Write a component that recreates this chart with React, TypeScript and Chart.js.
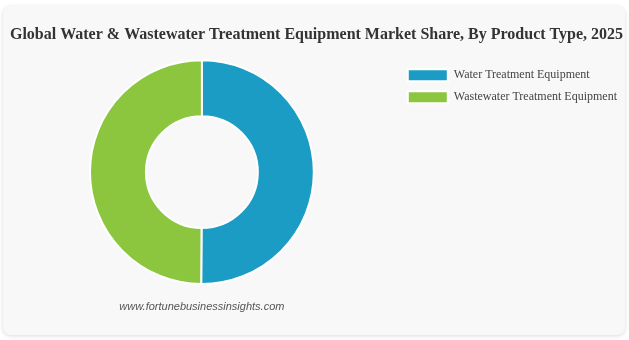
import React, { useEffect, useRef } from "react";
import { Chart, registerables } from "chart.js";

Chart.register(...registerables);

const categories = ["Water Treatment Equipment", "Wastewater Treatment Equipment"];
const shares = [50.1, 49.9];
const colors = ["#1b9cc5", "#8cc63f"];
const titleText = "Global Water & Wastewater Treatment Equipment Market Share, By Product Type, 2025";
const watermark = "www.fortunebusinessinsights.com";

const serif = "'Liberation Serif', 'Times New Roman', serif";

const watermarkPlugin = {
  id: "watermark",
  afterDraw(chart: any) {
    const { ctx, chartArea } = chart;
    ctx.save();
    ctx.font = "italic 11px 'Liberation Sans', Arial, sans-serif";
    ctx.fillStyle = "#555";
    ctx.textAlign = "center";
    ctx.textBaseline = "middle";
    ctx.fillText(watermark, (chartArea.left + chartArea.right) / 2, chartArea.bottom + 22);
    ctx.restore();
  },
};

export default function App() {
  const ref = useRef<HTMLCanvasElement>(null);
  useEffect(() => {
    if (!ref.current) return;
    const chart = new Chart(ref.current, {
      type: "doughnut",
      data: {
        labels: categories,
        datasets: [
          {
            data: shares,
            backgroundColor: colors,
            borderColor: "#ffffff",
            borderWidth: 2,
            hoverOffset: 0,
          },
        ],
      },
      options: {
        animation: false,
        responsive: true,
        maintainAspectRatio: false,
        cutout: "50%",
        layout: { padding: { left: 3, right: -2, top: 0, bottom: 50 } },
        plugins: {
          title: {
            display: true,
            text: titleText,
            color: "#333",
            font: { family: serif, size: 16, weight: "bold" },
            padding: { top: 19, bottom: 15 },
          },
          legend: {
            position: "right",
            align: "start",
            fullSize: false,
            labels: {
              boxWidth: 40,
              boxHeight: 12,
              padding: 10,
              color: "#444",
              font: { family: serif, size: 12 },
            },
          },
          tooltip: { enabled: false },
        },
      },
      plugins: [watermarkPlugin],
    });
    return () => chart.destroy();
  }, []);
  return (
    <div
      style={{
        position: "absolute",
        left: 3,
        top: 6,
        width: 622,
        height: 329,
        background: "#f8f8f8",
        borderRadius: 8,
        boxShadow: "0 1px 4px rgba(0,0,0,0.15)",
      }}
    >
      <canvas ref={ref} />
    </div>
  );
}
